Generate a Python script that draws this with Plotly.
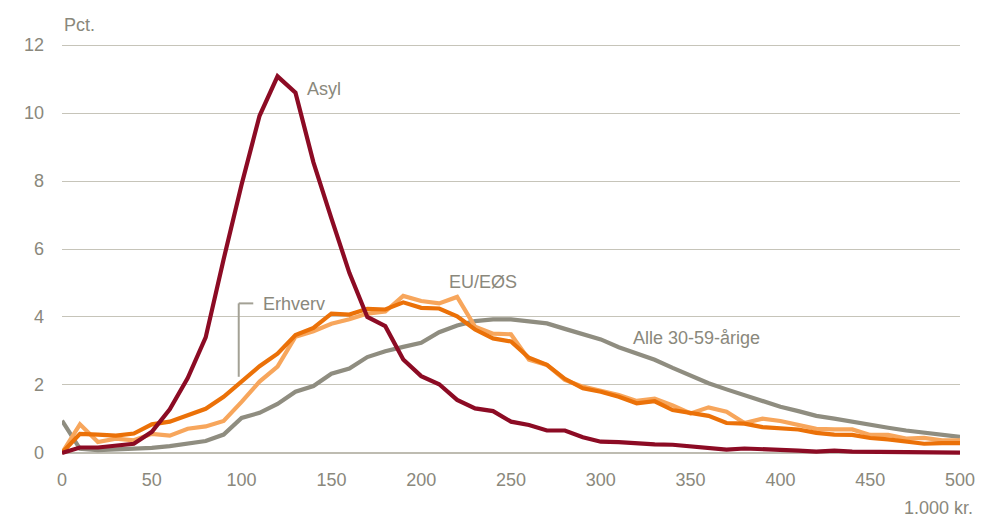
import plotly.graph_objects as go

# Income brackets (1.000 kr.), 10k steps
income = list(range(0, 501, 10))

asyl = [0, 0.16, 0.16, 0.21, 0.27, 0.62, 1.28, 2.2, 3.4, 5.7, 7.9, 9.92, 11.08, 10.6, 8.55, 6.9, 5.3, 4.0,
        3.73, 2.75, 2.26, 2.02, 1.56, 1.31, 1.23, 0.92, 0.82, 0.66, 0.66, 0.46, 0.33, 0.32, 0.27, 0.25,
        0.24, 0.19, 0.15, 0.1, 0.13, 0.12, 0.11, 0.07, 0.04, 0.07, 0.04, 0.04, 0.04, 0.04, 0.02, 0.02, 0.01]

erhverv = [0, 0.56, 0.54, 0.51, 0.57, 0.84, 0.92, 1.1, 1.3, 1.65, 2.1, 2.55, 2.92, 3.47, 3.68, 4.1, 4.07,
           4.24, 4.22, 4.43, 4.27, 4.25, 4.02, 3.63, 3.37, 3.28, 2.8, 2.59, 2.18, 1.9, 1.8, 1.65, 1.46,
           1.52, 1.26, 1.16, 1.09, 0.88, 0.86, 0.76, 0.73, 0.69, 0.59, 0.54, 0.53, 0.44, 0.4, 0.34, 0.27,
           0.29, 0.29]

eu_eoes = [0, 0.84, 0.32, 0.42, 0.37, 0.56, 0.51, 0.71, 0.78, 0.94, 1.5, 2.1, 2.54, 3.42, 3.58, 3.8, 3.93,
           4.1, 4.16, 4.62, 4.47, 4.4, 4.59, 3.71, 3.51, 3.49, 2.74, 2.59, 2.15, 1.95, 1.83, 1.7, 1.53,
           1.6, 1.4, 1.16, 1.34, 1.21, 0.88, 1.01, 0.94, 0.81, 0.71, 0.69, 0.69, 0.53, 0.53, 0.42, 0.44,
           0.37, 0.37]

alle = [0.95, 0.12, 0.08, 0.1, 0.12, 0.15, 0.2, 0.27, 0.35, 0.54, 1.03, 1.18, 1.44, 1.8, 1.97, 2.33, 2.48,
        2.82, 2.99, 3.12, 3.24, 3.55, 3.75, 3.88, 3.93, 3.93, 3.88, 3.81, 3.65, 3.49, 3.34, 3.11, 2.94,
        2.74, 2.5, 2.27, 2.05, 1.87, 1.7, 1.52, 1.36, 1.23, 1.09, 1.01, 0.91, 0.81, 0.74, 0.66, 0.59,
        0.53, 0.47]

x_ticks = [0, 50, 100, 150, 200, 250, 300, 350, 400, 450, 500]
y_ticks = [0, 2, 4, 6, 8, 10, 12]

FONT = "Liberation Sans, Arial, sans-serif"
FS = 18
TEXT = "#8a887c"
GRID = "#c6c4b9"

series = [
    ("Alle 30-59-årige", alle, "#8f8d80"),
    ("EU/EØS", eu_eoes, "#f7a65c"),
    ("Erhverv", erhverv, "#eb7108"),
    ("Asyl", asyl, "#8c0b24"),
]

fig = go.Figure()
for name, vals, col in series:
    fig.add_trace(go.Scatter(x=income, y=vals, mode="lines", name=name,
                             line=dict(color=col, width=4.2), hoverinfo="skip"))

# Leader line for the Erhverv label
lead = dict(type="line", xref="x", yref="y", line=dict(color="#a3a195", width=2))
fig.add_shape(**lead, x0=98.4, y0=2.24, x1=98.4, y1=4.4)
fig.add_shape(**lead, x0=98.4, y0=4.4, x1=106.5, y1=4.4)

labels = [
    ("Asyl", 135.3, 10.72),
    ("Erhverv", 110.6, 4.37),
    ("EU/EØS", 214.2, 5.02),
    ("Alle 30-59-årige", 316.6, 3.37),
]
for txt, xv, yv in labels:
    fig.add_annotation(x=xv, y=yv, text=txt, showarrow=False, xanchor="left", yanchor="middle",
                       font=dict(family=FONT, size=FS, color=TEXT))

# Axis captions placed in paper coordinates (outside the plotting area)
fig.add_annotation(xref="paper", yref="paper", x=0.0, y=1.0385, text="Pct.", showarrow=False,
                   xanchor="left", yanchor="middle", font=dict(family=FONT, size=FS, color=TEXT))
fig.add_annotation(xref="paper", yref="paper", x=1.0167, y=-0.1226, text="1.000 kr.", showarrow=False,
                   xanchor="right", yanchor="middle", font=dict(family=FONT, size=FS, color=TEXT))

fig.update_layout(
    width=983, height=519,
    margin=dict(l=62, r=23, t=41, b=62, pad=0),
    paper_bgcolor="white", plot_bgcolor="white",
    showlegend=False,
    font=dict(family=FONT, size=FS, color=TEXT),
    xaxis=dict(range=[0, 500], tickvals=x_ticks, showgrid=False, zeroline=False, showline=False,
               automargin=False, ticks="", ticklabelstandoff=10,
               tickfont=dict(family=FONT, size=FS, color=TEXT)),
    yaxis=dict(range=[-0.12, 12.12], tickvals=y_ticks, showgrid=True, gridcolor=GRID, gridwidth=1.3,
               zeroline=True, zerolinecolor="#bebcb1", zerolinewidth=1.5, showline=False,
               automargin=False, ticks="", ticklabelstandoff=17,
               tickfont=dict(family=FONT, size=FS, color=TEXT)),
)

fig.write_html("out.html")
